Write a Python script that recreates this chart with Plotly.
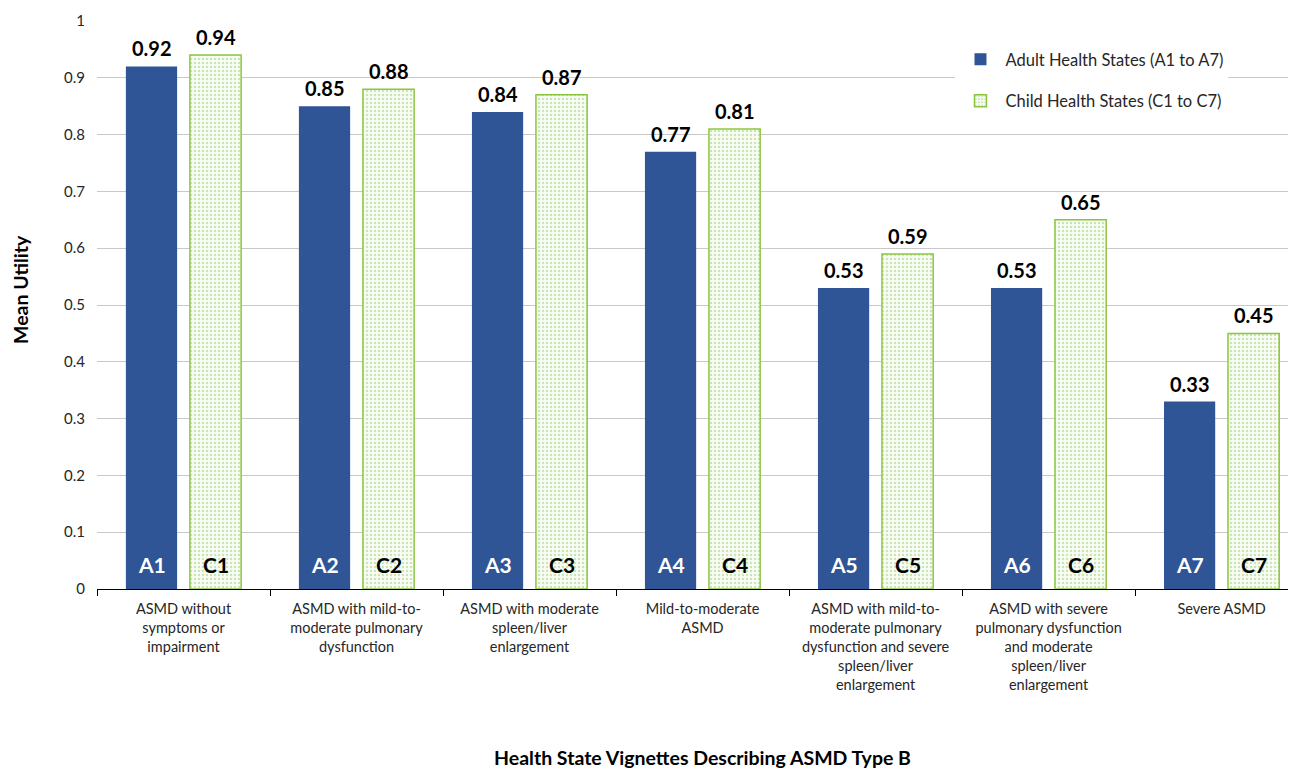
import plotly.graph_objects as go

categories = [
    "ASMD without<br>symptoms or<br>impairment",
    "ASMD with mild-to-<br>moderate pulmonary<br>dysfunction",
    "ASMD with moderate<br>spleen/liver<br>enlargement",
    "Mild-to-moderate<br>ASMD",
    "ASMD with mild-to-<br>moderate pulmonary<br>dysfunction and severe<br>spleen/liver<br>enlargement",
    "ASMD with severe<br>pulmonary dysfunction<br>and moderate<br>spleen/liver<br>enlargement",
    "Severe ASMD",
]
adult_codes = ["A1", "A2", "A3", "A4", "A5", "A6", "A7"]
child_codes = ["C1", "C2", "C3", "C4", "C5", "C6", "C7"]
adult_values = [0.92, 0.85, 0.84, 0.77, 0.53, 0.53, 0.33]
child_values = [0.94, 0.88, 0.87, 0.81, 0.59, 0.65, 0.45]
y_ticks = [0, 0.1, 0.2, 0.3, 0.4, 0.5, 0.6, 0.7, 0.8, 0.9, 1]
y_ticktext = ["0", "0.1", "0.2", "0.3", "0.4", "0.5", "0.6", "0.7", "0.8", "0.9", "1"]

FONT = "Lato, 'Open Sans', sans-serif"
BLUE = "#2F5597"
GREEN = "#8CC63F"

fig = go.Figure()
fig.add_trace(go.Bar(
    x=categories, y=adult_values, name="Adult Health States (A1 to A7)",
    marker=dict(color=BLUE, line=dict(color=BLUE, width=0)),
    legendgroup="a", hoverinfo="y",
))
fig.add_trace(go.Bar(
    x=categories, y=child_values, name="Child Health States (C1 to C7)",
    marker=dict(color="#FFFFFF", line=dict(color=GREEN, width=1.5),
                pattern=dict(shape=".", fgcolor="#9CCB78", bgcolor="#FAFDF6",
                             size=4, solidity=0.3)),
    legendgroup="c", hoverinfo="y",
))

annotations = []
for i in range(len(categories)):
    for vals, codes, shift, col in ((adult_values, adult_codes, -32, "white"),
                                   (child_values, child_codes, 32, "black")):
        annotations.append(dict(
            x=i, y=vals[i], xref="x", yref="y", xshift=shift, yshift=4,
            text="<b>%.2f</b>" % vals[i], showarrow=False, yanchor="bottom",
            font=dict(family=FONT, size=20, color="black")))
        annotations.append(dict(
            x=i, y=0.044, xref="x", yref="y", xshift=shift,
            text="<b>%s</b>" % codes[i], showarrow=False, yanchor="middle",
            font=dict(family=FONT, size=21, color=col)))

annotations.append(dict(
    x=0.5, y=-0.296, xref="paper", yref="paper", xanchor="center", yanchor="middle",
    showarrow=False, xshift=6,
    text="<b>Health State Vignettes Describing ASMD Type B</b>",
    font=dict(family=FONT, size=19.5, color="black")))
annotations.append(dict(
    x=0, y=0.5, xref="paper", yref="paper", xanchor="center", yanchor="middle",
    showarrow=False, xshift=-77, yshift=15, textangle=-90,
    text="<b>Mean Utility</b>",
    font=dict(family=FONT, size=19.5, color="black")))

fig.update_layout(
    width=1288, height=761,
    margin=dict(l=89, r=0, t=13, b=180),
    plot_bgcolor="white", paper_bgcolor="white",
    font=dict(family=FONT, size=14, color="#262626"),
    barmode="group", bargap=0.26, bargroupgap=0.2,
    showlegend=True,
    legend=dict(x=0.716, y=0.963, xanchor="left", yanchor="top",
                bgcolor="white", font=dict(family=FONT, size=16.5, color="#262626"),
                tracegroupgap=17, itemwidth=40),
    annotations=annotations,
)
fig.update_xaxes(
    type="category", range=[-0.5, 6.43],
    showline=True, linecolor="black", linewidth=1,
    ticks="outside", tickson="boundaries", ticklen=6, tickcolor="black",
    ticklabelstandoff=7,
    showgrid=False, tickfont=dict(family=FONT, size=14.5, color="#262626"),
    fixedrange=True,
)
fig.update_yaxes(
    range=[0, 1], tickvals=y_ticks, ticktext=y_ticktext,
    showgrid=True, gridcolor="#C8C8C8", gridwidth=1, zeroline=False,
    ticks="", ticklabelstandoff=11,
    tickfont=dict(family=FONT, size=15, color="#262626"),
)

fig.write_html("out.html")
